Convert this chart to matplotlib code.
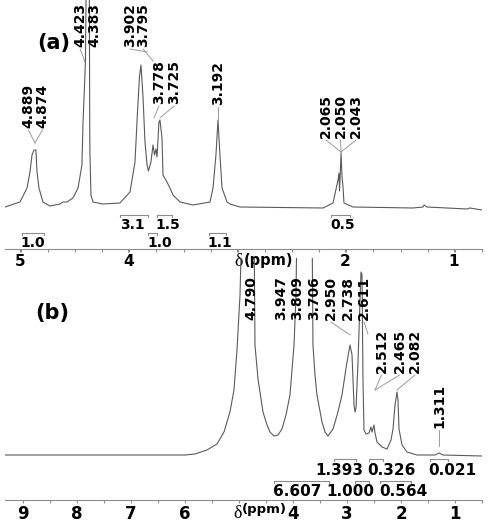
import matplotlib.pyplot as plt

# (a) spectrum trace: shift (ppm) and height above baseline
shift_a = [5.138, 5.0, 4.935, 4.908, 4.889, 4.871, 4.853, 4.843, 4.825, 4.788, 4.724,
           4.631, 4.604, 4.567, 4.512, 4.465, 4.429, 4.419, 4.406, 4.397, 4.386, 4.373,
           4.362, 4.357, 4.355, 4.346, 4.327, 4.235, 4.078, 3.986, 3.940, 3.917, 3.899,
           3.885, 3.866, 3.848, 3.829, 3.816, 3.793, 3.774, 3.760, 3.747, 3.737, 3.719,
           3.710, 3.691, 3.682, 3.645, 3.618, 3.590, 3.525, 3.406, 3.249, 3.221, 3.194,
           3.175, 3.157, 3.138, 3.092, 3.065, 2.972, 2.207, 2.115, 2.069, 2.060, 2.055,
           2.046, 2.041, 2.032, 2.023, 2.014, 1.931, 1.378, 1.286, 1.276, 1.249, 0.880,
           0.853, 0.742]
inten_a = [0, 5, 19, 35, 52, 57, 57, 35, 19, 5, 1,
           3, 5, 5, 9, 19, 42, 85, 119, 145, 260, 300,
           260, 77, 52, 12, 5, 3, 4, 15, 45, 95, 130,
           142, 110, 65, 42, 36, 45, 62, 52, 58, 50, 85,
           87, 69, 32, 25, 19, 12, 5, 2, 5, 19, 52,
           87, 52, 19, 5, 3, 0, -1, 4, 27, 34, 16,
           40, 54, 30, 20, 4, 0, -1, 0, 2, 0, -2,
           -1, -3]

# (b) spectrum trace
shift_b = [9.333, 6.0, 5.815, 5.593, 5.407, 5.278, 5.167, 5.093, 5.037, 4.981, 4.944,
           4.722, 4.704, 4.648, 4.556, 4.481, 4.426, 4.352, 4.278, 4.204, 4.13, 4.056,
           3.981, 3.944, 3.926, 3.648, 3.630, 3.593, 3.556, 3.463, 3.407, 3.352, 3.259,
           3.167, 3.093, 3.0, 2.944, 2.907, 2.889, 2.870, 2.852, 2.833, 2.796, 2.759,
           2.741, 2.722, 2.704, 2.685, 2.648, 2.593, 2.556, 2.537, 2.5, 2.481, 2.444,
           2.352, 2.259, 2.185, 2.148, 2.111, 2.074, 2.056, 2.037, 1.981, 1.889, 1.704,
           1.37, 1.296, 1.222, 0.5]
inten_b = [1, 1, 2, 6, 12, 24, 44, 66, 106, 161, 240,
           240, 111, 77, 44, 31, 24, 20, 21, 27, 41, 61,
           111, 161, 240, 240, 111, 81, 61, 34, 24, 20, 27,
           44, 61, 94, 111, 101, 77, 51, 44, 48, 94, 156,
           184, 181, 76, 26, 22, 23, 29, 24, 31, 23, 14,
           9, 7, 16, 27, 51, 64, 56, 27, 11, 4, 1,
           1, 3, 1, 0]

# peak labels
labels_a = ['4.889', '4.874', '4.423', '4.383', '3.902', '3.795', '3.778', '3.725',
            '3.192', '2.065', '2.050', '2.043']
labels_b = ['4.790', '3.947', '3.809', '3.706', '2.950', '2.738', '2.611', '2.512',
            '2.465', '2.082', '1.311']

# integrals: value and range (ppm)
integ_a = ['1.0', '3.1', '1.0', '1.5', '1.1', '0.5']
integ_a_from = [4.984, 4.078, 3.823, 3.74, 3.258, 2.136]
integ_a_to = [4.779, 3.817, 3.735, 3.60, 3.101, 1.959]
integ_b = ['1.393', '0.326', '0.021', '6.607', '1.000', '0.564']
integ_b_from = [3.241, 2.593, 1.463, 4.352, 2.852, 2.389]
integ_b_to = [2.833, 2.333, 1.13, 3.333, 2.593, 1.815]

# layout of the annotations (x in ppm, y in plot units)
lab_a_x = [4.922, 4.793, 4.445, 4.315, 3.986, 3.866, 3.719, 3.581, 3.175, 2.180, 2.046, 1.903]
lab_a_y = [79, 79, 160, 160, 160, 160, 103, 103, 102, 69, 69, 69]
tip_a = [(4.862, 64), (4.862, 64), (4.401, 145), None, (3.829, 155), (3.774, 146),
         (3.765, 89), (3.710, 89), (3.175, 88), (2.041, 55), (2.041, 55), (2.041, 55)]
lab_b_x = [4.778, 4.213, 3.917, 3.611, 3.296, 2.991, 2.685, 2.361, 2.028, 1.741, 1.296]
lab_b_y = [136] * 7 + [83] * 3 + [28]
tip_b = [None, None, None, None, (2.944, 121), None, (2.611, 122), (2.481, 66),
         (2.481, 66), (2.074, 66), (1.296, 10)]
int_a_tx = [4.880, 3.959, 3.716, 3.639, 3.157, 2.03]
int_a_row = [1, 0, 1, 0, 1, 0]
int_b_tx = [3.148, 2.176, 1.046, 3.926, 2.944, 1.954]
int_b_row = [0, 0, 0, 1, 1, 1]

LINE = '#5a5a5a'
GRAY = '#8c8c8c'

fig = plt.figure(figsize=(4.91, 5.29), dpi=100)
ax_a = fig.add_axes([5 / 491, 1 - 249 / 529, 477 / 491, 249 / 529])
ax_b = fig.add_axes([5 / 491, 1 - 500 / 529, 477 / 491, 242 / 529])


def style_axis(ax, xlim, ylim, majors, minor_step, blank, size):
    ax.set_xlim(*xlim)
    ax.set_ylim(*ylim)
    for s in ['top', 'left', 'right']:
        ax.spines[s].set_visible(False)
    ax.spines['bottom'].set_color(GRAY)
    ax.spines['bottom'].set_linewidth(0.8)
    ax.set_yticks([])
    ax.set_xticks(majors)
    ax.set_xticklabels(['' if m == blank else str(m) for m in majors],
                       fontweight='bold', fontsize=size)
    minors = []
    v = xlim[1]
    while v < xlim[0]:
        minors.append(round(v, 3))
        v += minor_step
    ax.set_xticks(minors, minor=True)
    ax.tick_params(axis='x', which='both', direction='out', length=2.5, width=0.8,
                   color=GRAY, pad=1)
    ax.patch.set_alpha(0)


style_axis(ax_a, (5.138, 0.742), (-42, 207), [5, 4, 3, 2, 1], 0.25, 3, 11)
style_axis(ax_b, (9.333, 0.5), (-44, 198), [9, 8, 7, 6, 5, 4, 3, 2, 1], 0.5, 5, 12)

ax_a.plot(shift_a, inten_a, color=LINE, lw=0.8)
ax_b.plot(shift_b, inten_b, color=LINE, lw=0.8)


def peak_labels(ax, labels, xs, ys, tips):
    for lab, x, y, tip in zip(labels, xs, ys, tips):
        ax.text(x, y, lab, rotation=90, ha='center', va='bottom', fontsize=10,
                fontweight='bold', clip_on=False)
        if tip is not None:
            ax.plot([x, tip[0]], [y - 2, tip[1]], color=GRAY, lw=0.6)


peak_labels(ax_a, labels_a, lab_a_x, lab_a_y, tip_a)
peak_labels(ax_b, labels_b, lab_b_x, lab_b_y, tip_b)


def integrals(ax, vals, lo, hi, tx, rows, bar_y, txt_y, size):
    for v, a, b, x, r in zip(vals, lo, hi, tx, rows):
        y = bar_y[r]
        ax.plot([a, a, b, b], [y - 2, y, y, y - 2], color=GRAY, lw=0.8, clip_on=False)
        ax.text(x, txt_y[r], v, ha='center', va='center', fontsize=size,
                fontweight='bold')


integrals(ax_a, integ_a, integ_a_from, integ_a_to, int_a_tx, int_a_row,
          (-7.7, -26.3), (-18, -36), 10)
integrals(ax_b, integ_b, integ_b_from, integ_b_to, int_b_tx, int_b_row,
          (-3, -25), (-14.5, -35.5), 11)

# axis titles sitting in place of one tick label
ax_a.text(2.982, -55, 'δ', family='Liberation Serif', fontsize=13, ha='center',
          va='center', clip_on=False)
ax_a.text(2.940, -53, '(ppm)', fontsize=10.5, fontweight='bold', ha='left',
          va='center', clip_on=False)
ax_b.text(5.03, -57, 'δ', family='Liberation Serif', fontsize=13, ha='center',
          va='center', clip_on=False)
ax_b.text(4.955, -54, '(ppm)', fontsize=9.5, fontweight='bold', ha='left',
          va='center', clip_on=False)

ax_a.text(4.691, 164, '(a)', fontsize=15, fontweight='bold', ha='center', va='center')
ax_b.text(8.454, 143.5, '(b)', fontsize=15, fontweight='bold', ha='center', va='center')

fig.savefig('out.png', dpi=100)
